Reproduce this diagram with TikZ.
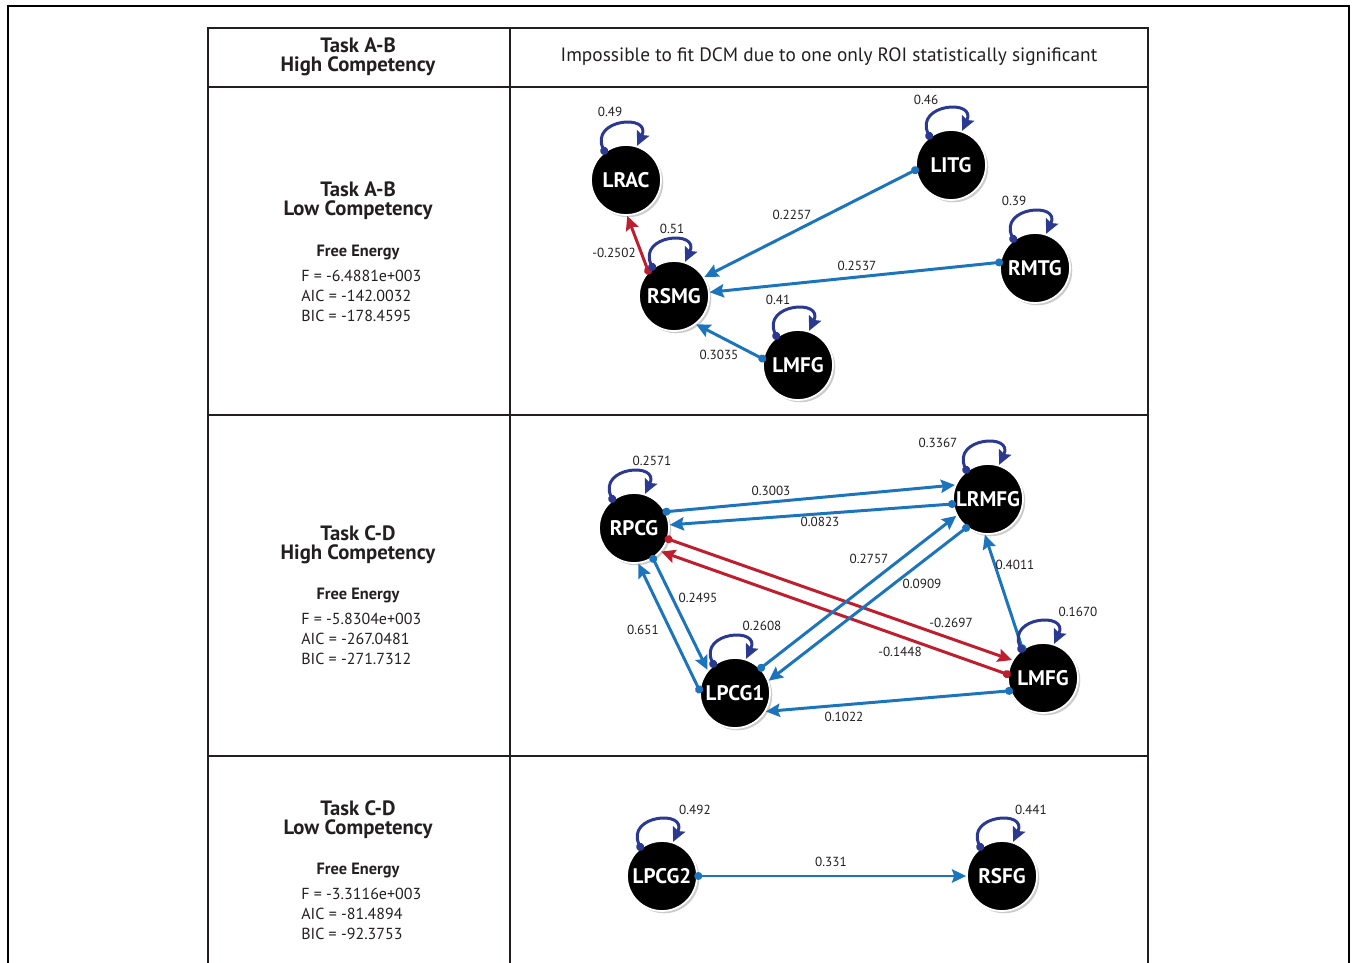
\documentclass[tikz,border=0pt]{standalone}
\usepackage{fontspec}
\setmainfont{PT Sans}
\usetikzlibrary{arrows.meta,shadows}

\definecolor{linkblue}{RGB}{28,117,188}
\definecolor{loopblue}{RGB}{43,57,144}
\definecolor{linkred}{RGB}{190,30,45}
\definecolor{inkgray}{RGB}{35,31,32}

\tikzset{
  roi/.style = {circle, fill=black, draw=white, line width=1pt, minimum size=1.4cm,
    inner sep=0pt, text=white, font=\fontsize{12}{14}\selectfont\bfseries,
    drop shadow={shadow xshift=1.3pt, shadow yshift=-1.3pt, fill=black!40}},
  link/.style = {linkblue, line width=1.7pt, shorten <=-2pt,
    {Circle[length=4.5pt]}-{Stealth[length=8pt,width=7.5pt,inset=1.2pt]}},
  inhib/.style = {link, linkred},
  selfloop/.style = {link, loopblue},
  lbl/.style = {text=inkgray, font=\fontsize{7.5}{9}\selectfont, inner sep=0pt},
  grid/.style = {inkgray, line width=1.5pt},
  title/.style = {text=inkgray, align=center, font=\fontsize{11.8}{10.8}\selectfont\bfseries},
  fehead/.style = {text=inkgray, font=\fontsize{9.3}{10}\selectfont\bfseries},
  fevals/.style = {text=inkgray, align=left, anchor=west, inner sep=0pt,
    font=\fontsize{9.1}{11.3}\selectfont},
}

\begin{document}
\begin{tikzpicture}[x=0.02cm, y=0.02cm]
\useasboundingbox (0,0) rectangle (1357,-963);

% page frame
\draw[black, line width=1.2pt] (8,-963) -- (8,-6) -- (1349,-6) -- (1349,-963);

% table rules
\draw[grid] (208,-963) -- (208,-28) -- (1148,-28) -- (1148,-963);
\draw[grid] (510,-28) -- (510,-963);
\foreach \y in {87,415,756}
  \draw[grid] (208,-\y) -- (1148,-\y);

% left column
\node[title] (t1) at (358,-57) {Task A-B\\High Competency};
\node[text=inkgray, font=\fontsize{11}{12}\selectfont] (t1r) at (829,-57)
  {Impossible to fit DCM due to one only ROI statistically significant};

\node[title] (t2) at (358,-201) {Task A-B\\Low Competency};
\node[fehead] (f2) at (358,-253) {Free Energy};
\node[fevals] (v2) at (301,-296) {F = -6.4881e+003\\AIC = -142.0032\\BIC = -178.4595};

\node[title] (t3) at (358,-545) {Task C-D\\High Competency};
\node[fehead] (f3) at (358,-596) {Free Energy};
\node[fevals] (v3) at (301,-639) {F = -5.8304e+003\\AIC = -267.0481\\BIC = -271.7312};

\node[title] (t4) at (358,-820) {Task C-D\\Low Competency};
\node[fehead] (f4) at (358,-871) {Free Energy};
\node[fevals] (v4) at (301,-914) {F = -3.3116e+003\\AIC = -81.4894\\BIC = -92.3753};

% regions of interest
\node[roi] (lrac)  at (626,-180) {LRAC};
\node[roi] (litg)  at (951,-165) {LITG};
\node[roi] (rsmg)  at (674,-296) {RSMG};
\node[roi] (rmtg)  at (1035,-268) {RMTG};
\node[roi] (lmfg)  at (798,-365) {LMFG};

\node[roi] (rpcg)  at (634,-528) {RPCG};
\node[roi] (lrmfg) at (988,-499) {LRMFG};
\node[roi] (lpcg1) at (735,-693) {LPCG1};
\node[roi] (lmfg2) at (1043,-678) {LMFG};

\node[roi] (lpcg2) at (662,-876) {LPCG2};
\node[roi] (rsfg)  at (1002,-876) {RSFG};

% connections
\draw[inhib] (rsmg.136) -- (lrac.272) node[lbl] (w1) at (614,-253) {-0.2502};
\draw[link] (litg.188) -- (rsmg.32) node[lbl] (w2) at (792,-215) {0.2257};
\draw[link] (rmtg.171) -- (rsmg.6) node[lbl] (w3) at (857,-266) {0.2537};
\draw[link] (lmfg.170) -- (rsmg.308) node[lbl] (w4) at (719,-355) {0.3035};

\draw[link] (rpcg.27) -- (lrmfg.157) node[lbl] (w5) at (771,-491) {0.3003};
\draw[link] (lrmfg.188) -- (rpcg.5) node[lbl] (w6) at (820,-522) {0.0823};
\draw[inhib] (rpcg.342) -- (lmfg2.150) node[lbl] (w7) at (951,-623) {-0.2697};
\draw[inhib] (lmfg2.174) -- (rpcg.319) node[lbl] (w8) at (900,-652) {-0.1448};
\draw[link] (lpcg1.44) -- (lrmfg.208) node[lbl] (w9) at (869,-559) {0.2757};
\draw[link] (lrmfg.233) -- (lpcg1.20) node[lbl] (w10) at (922,-584) {0.0909};
\draw[link] (lmfg2.125) -- (lrmfg.265) node[lbl] (w11) at (1015,-565) {0.4011};
\draw[link] (rpcg.302) -- (lpcg1.140) node[lbl] (w12) at (698,-598) {0.2495};
\draw[link] (lpcg1.175) -- (rpcg.277) node[lbl] (w13) at (643,-630) {0.651};
\draw[link] (lmfg2.201) -- (lpcg1.329) node[lbl] (w14) at (844,-717) {0.1022};

\draw[link] (lpcg2.0) -- (rsfg.180) node[lbl] (w15) at (831,-862) {0.331};

% self connections
\foreach \n/\w/\lx/\ly in {lrac/0.49/610/112, litg/0.46/926/100, rsmg/0.51/672/229,
    rmtg/0.39/1014/201, lmfg/0.41/778/300, rpcg/0.2571/652/461,
    lrmfg/0.3367/938/443, lpcg1/0.2608/762/626, lmfg2/0.1670/1078/612,
    lpcg2/0.492/695/810, rsfg/0.441/1031/810}
  \draw[selfloop] (\n.127) .. controls +(115:36) and +(65:36) .. (\n.72)
    node[lbl] (\n-w) at (\lx,-\ly) {\w};
\end{tikzpicture}
\end{document}
